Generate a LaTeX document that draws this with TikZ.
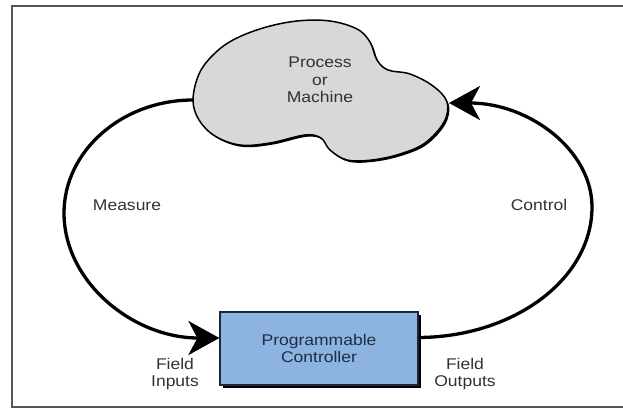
\documentclass[tikz,border=0pt]{standalone}
\usepackage{fontspec}
\setmainfont{Liberation Sans}[FakeStretch=1.13]
\usetikzlibrary{arrows.meta,calc}
\definecolor{cloudgray}{RGB}{216,216,216}
\definecolor{boxblue}{RGB}{141,180,224}
\definecolor{boxline}{RGB}{30,38,55}
\definecolor{txtgray}{RGB}{50,50,50}
\definecolor{boxtxt}{RGB}{30,46,70}
\definecolor{framegray}{RGB}{85,85,85}
\tikzset{
  lbl/.style={font=\fontsize{15.5}{17.5}\selectfont, text=txtgray, align=center, inner sep=0pt},
  pcbox/.style={draw=boxline, line width=1.2pt, fill=boxblue, minimum width=198pt, minimum height=73pt,
    font=\fontsize{15.5}{17.5}\selectfont, text=boxtxt, align=center, inner sep=0pt},
  loopline/.style={line width=3.3pt, draw=black},
  bigtip/.style={-{Stealth[length=31pt,width=34pt,inset=9pt]}},
}
\begin{document}
\begin{tikzpicture}[x=1pt,y=-1pt]
\useasboundingbox (0,0) rectangle (623,409);
% frame
\draw[framegray, line width=1.8pt] (640,6) -- (12,6) -- (12,407) -- (640,407);
% cloud shadow and cloud
\def\cloudpts{(193,100) (199,74) (213,55) (233,40) (263,28) (297,21) (330,21) (357,29) (370,42) (377,60) (388,70) (410,74) (433,86) (447,102) (444,122) (425,143) (400,154) (372,160) (347,160) (330,150) (321,138) (305,135) (270,143) (240,145) (215,136) (199,120)}
\fill[black] [shift={(1.6,1.8)}] plot[smooth cycle, tension=0.6] coordinates {\cloudpts};
\draw[black, line width=1.5pt, fill=cloudgray] plot[smooth cycle, tension=0.6] coordinates {\cloudpts};
\node[lbl] (proc) at (320,80) {Process\\or\\Machine};
\coordinate (cl) at (193,100);
\coordinate (cr) at (449,103);
% controller box with shadow
\fill[black] (223,315) rectangle (421,388);
\node[pcbox] (plc) at (319,348.5) {Programmable\\Controller};
\coordinate (inA) at ($(plc.west)+(0,-10.5)$);
\coordinate (outA) at ($(plc.east)+(0,-11)$);
% loops
\draw[loopline, bigtip] (cl) .. controls (122,100) and (64,151) .. (64,213)
   .. controls (64,282) and (133,338) .. (inA);
\draw[loopline, bigtip] (outA) .. controls (514,337) and (592,279) .. (592,207)
   .. controls (592,150) and (529,103) .. (cr);
% labels
\node[lbl] (meas) at (127,205) {Measure};
\node[lbl] (ctrl) at (539,205) {Control};
\node[lbl] (fin) at (175,374) {Field\\Inputs};
\node[lbl] (fout) at (465,374) {Field\\Outputs};
\end{tikzpicture}
\end{document}
